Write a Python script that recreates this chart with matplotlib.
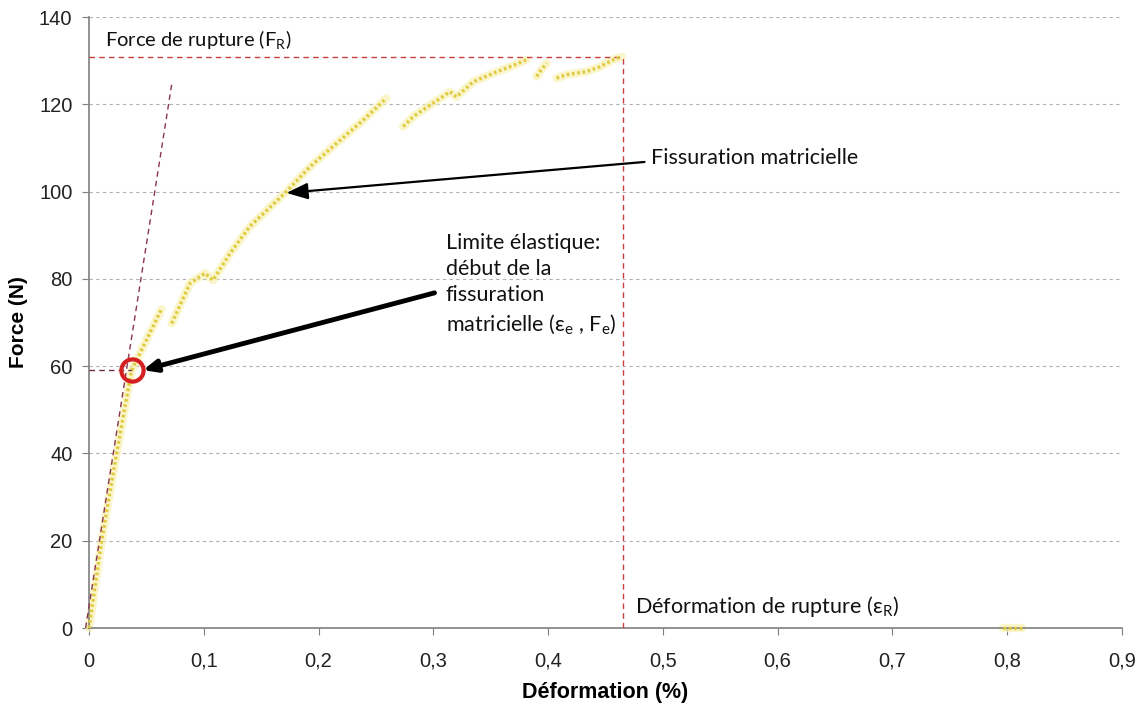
import matplotlib
matplotlib.use("Agg")
import matplotlib.pyplot as plt

# ---- data ----
seg1_x = [0.000, 0.011, 0.024, 0.037, 0.050, 0.063]
seg1_f = [0.0, 20.0, 40.0, 59.0, 66.0, 73.0]

seg2_x = [0.072, 0.088, 0.101, 0.108, 0.123, 0.140, 0.158, 0.172, 0.1925, 0.2158, 0.239, 0.259]
seg2_f = [69.8, 79.0, 81.3, 79.7, 85.9, 92.0, 96.5, 100.0, 105.7, 111.1, 116.4, 121.4]

seg3_x = [0.2738, 0.2825, 0.297, 0.3145, 0.320, 0.3348, 0.352, 0.3696, 0.381]
seg3_f = [114.9, 117.2, 119.8, 122.9, 121.7, 125.2, 127.1, 128.9, 130.2]

seg4_x = [0.390, 0.394, 0.3987]
seg4_f = [126.4, 127.9, 129.4]

seg5_x = [0.4074, 0.416, 0.4335, 0.445, 0.4567, 0.464]
seg5_f = [126.0, 126.8, 127.5, 128.6, 130.2, 130.9]

seg6_x = [0.796, 0.813]
seg6_f = [0.0, 0.0]

segments = [(seg1_x, seg1_f), (seg2_x, seg2_f), (seg3_x, seg3_f),
            (seg4_x, seg4_f), (seg5_x, seg5_f), (seg6_x, seg6_f)]

F_rupture = 130.9
eps_rupture = 0.465
eps_e, F_e = 0.037, 59.1
tangent_x = [-0.003, 0.072]
tangent_f = [0.0, 124.5]

x_ticks = [0, 0.1, 0.2, 0.3, 0.4, 0.5, 0.6, 0.7, 0.8, 0.9]
x_tick_labels = ["0", "0,1", "0,2", "0,3", "0,4", "0,5", "0,6", "0,7", "0,8", "0,9"]
y_ticks = [0, 20, 40, 60, 80, 100, 120, 140]

# ---- figure ----
fig = plt.figure(figsize=(11.46, 7.11), dpi=100)
ax = fig.add_axes([0.0777, 0.1167, 0.9013, 0.8593])
ax.set_xlim(0, 0.9)
ax.set_ylim(0, 140)

tick_font = ["Liberation Sans", "DejaVu Sans"]
note_font = ["Lato", "DejaVu Sans"]

ax.set_yticks(y_ticks)
ax.set_xticks(x_ticks)
ax.set_xticklabels(x_tick_labels)
for lab in ax.get_xticklabels() + ax.get_yticklabels():
    lab.set_family(tick_font)
    lab.set_fontsize(14.5)
    lab.set_color("#222222")
ax.tick_params(axis="both", direction="out", length=5, color="#7f7f7f")
ax.tick_params(axis="x", pad=12)
ax.tick_params(axis="y", pad=7)

for s in ["top", "right"]:
    ax.spines[s].set_visible(False)
for s in ["left", "bottom"]:
    ax.spines[s].set_color("#7f7f7f")
    ax.spines[s].set_linewidth(1.2)

ax.yaxis.grid(True, color="#b0b0b0", linestyle=(0, (3, 3)), linewidth=0.8)
ax.set_axisbelow(True)

ax.set_ylabel("Force (N)", family=tick_font, fontsize=15, fontweight="bold", labelpad=8)
ax.set_xlabel("Déformation (%)", family=tick_font, fontsize=15.5, fontweight="bold", labelpad=8)

# reference dashed lines
red = "#c8403f"
ax.plot([0, eps_rupture], [F_rupture, F_rupture], color=red, lw=1.0, ls=(0, (4, 3)), zorder=3)
ax.plot([eps_rupture, eps_rupture], [0, F_rupture], color=red, lw=1.0, ls=(0, (4, 3)), zorder=3)
ax.plot([0, eps_e], [F_e, F_e], color="#6a3048", lw=1.0, ls=(0, (4, 3)), zorder=3)
ax.plot(tangent_x, tangent_f, color="#8a3550", lw=1.0, ls=(0, (4, 3)), zorder=4, clip_on=False)

# data curve (dotted yellow with pale glow)
for xs, fs in segments:
    ax.plot(xs, fs, color="#f8f1b4", lw=6, alpha=0.7, solid_capstyle="round", zorder=2, clip_on=False)
    ax.plot(xs, fs, color="#e0ca40", lw=2.4, ls=(0, (0.8, 0.8)), zorder=3, clip_on=False)

# elastic-limit circle
ax.plot([eps_e], [F_e], marker="o", ms=16, mfc="none", mec="#d42020", mew=3, zorder=6)

# annotations
ax.text(0.014, 134.7, "Force de rupture (F$_\\mathregular{R}$)", family=note_font,
        fontsize=14.5, va="center", ha="left", color="#111111")
ax.text(0.476, 5.0, "Déformation de rupture (ε$_\\mathregular{R}$)", family=note_font,
        fontsize=15.5, va="center", ha="left", color="#111111")
ax.text(0.490, 107.7, "Fissuration matricielle", family=note_font,
        fontsize=15.5, va="center", ha="left", color="#111111")
ax.text(0.311, 90.5, "Limite élastique:\ndébut de la\nfissuration\nmatricielle (ε$_\\mathregular{e}$ , F$_\\mathregular{e}$)",
        family=note_font, fontsize=15.5, va="top", ha="left", color="#111111", linespacing=1.38)

ax.annotate("", xy=(0.172, 99.7), xytext=(0.484, 106.8),
            arrowprops=dict(arrowstyle="-|>,head_length=1.3,head_width=0.5", color="black", lw=1.6,
                            shrinkA=0, shrinkB=0), zorder=7)
ax.annotate("", xy=(0.047, 59.1), xytext=(0.301, 76.8),
            arrowprops=dict(arrowstyle="-|>,head_length=0.8,head_width=0.35", color="black", lw=3.5,
                            shrinkA=0, shrinkB=0), zorder=7)

fig.savefig("out.png", dpi=100, facecolor="white")
